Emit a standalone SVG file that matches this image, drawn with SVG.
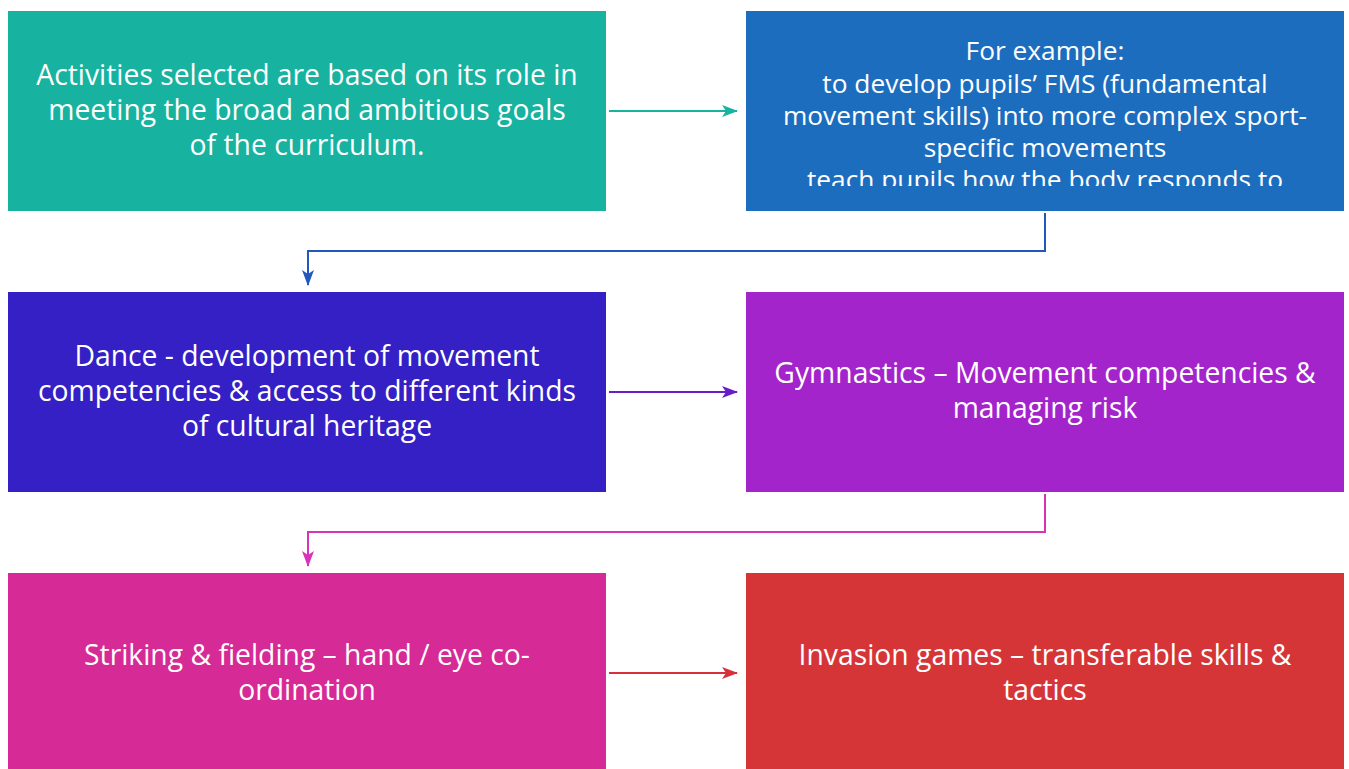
<svg xmlns="http://www.w3.org/2000/svg" width="1349" height="769" viewBox="0 0 1349 769">
<style>
.t{font-family:"Open Sans",Lato,"Liberation Sans",sans-serif;font-size:28.3px;fill:#fff;text-anchor:middle}
.s{font-size:26.3px}
.c{fill:none;stroke-width:2}
</style>
<defs>
<marker id="a1" markerWidth="16" markerHeight="12" refX="15" refY="6" orient="auto" markerUnits="userSpaceOnUse"><path d="M0,0 L16,6 L0,12 L4,6 Z" fill="#17b3a0"/></marker>
<marker id="a2" markerWidth="16" markerHeight="12" refX="15" refY="6" orient="auto" markerUnits="userSpaceOnUse"><path d="M0,0 L16,6 L0,12 L4,6 Z" fill="#2058c0"/></marker>
<marker id="a3" markerWidth="16" markerHeight="12" refX="15" refY="6" orient="auto" markerUnits="userSpaceOnUse"><path d="M0,0 L16,6 L0,12 L4,6 Z" fill="#6a1cc8"/></marker>
<marker id="a4" markerWidth="16" markerHeight="12" refX="15" refY="6" orient="auto" markerUnits="userSpaceOnUse"><path d="M0,0 L16,6 L0,12 L4,6 Z" fill="#d832b8"/></marker>
<marker id="a5" markerWidth="16" markerHeight="12" refX="15" refY="6" orient="auto" markerUnits="userSpaceOnUse"><path d="M0,0 L16,6 L0,12 L4,6 Z" fill="#d8303a"/></marker>
<clipPath id="cp2"><rect x="746" y="11" width="598" height="175"/></clipPath>
</defs>
<g id="connectors">
<path class="c" d="M609,111 H737" stroke="#17b3a0" marker-end="url(#a1)"/>
<path class="c" d="M1045,213 V251 H308 V285" stroke="#2058c0" marker-end="url(#a2)"/>
<path class="c" d="M609,392 H737" stroke="#6a1cc8" marker-end="url(#a3)"/>
<path class="c" d="M1045,494 V532 H308 V566" stroke="#d832b8" marker-end="url(#a4)"/>
<path class="c" d="M609,673 H737" stroke="#d8303a" marker-end="url(#a5)"/>
</g>
<g id="n1">
<rect x="8" y="11" width="598" height="200" fill="#17b3a0"/>
<text class="t" x="307" y="85">Activities selected are based on its role in</text>
<text class="t" x="307" y="120">meeting the broad and ambitious goals</text>
<text class="t" x="307" y="155">of the curriculum.</text>
</g>
<g id="n2">
<rect x="746" y="11" width="598" height="200" fill="#1d6dbf"/>
<g clip-path="url(#cp2)">
<text class="t s" x="1045" y="60">For example:</text>
<text class="t s" x="1045" y="93">to develop pupils’ FMS (fundamental</text>
<text class="t s" x="1045" y="125">movement skills) into more complex sport-</text>
<text class="t s" x="1045" y="157">specific movements</text>
<text class="t s" x="1045" y="189">teach pupils how the body responds to</text>
</g>
</g>
<g id="n3">
<rect x="8" y="292" width="598" height="200" fill="#3420c4"/>
<text class="t" x="307" y="366">Dance - development of movement</text>
<text class="t" x="307" y="401">competencies &amp; access to different kinds</text>
<text class="t" x="307" y="436">of cultural heritage</text>
</g>
<g id="n4">
<rect x="746" y="292" width="598" height="200" fill="#a424cc"/>
<text class="t" x="1045" y="383">Gymnastics – Movement competencies &amp;</text>
<text class="t" x="1045" y="418">managing risk</text>
</g>
<g id="n5">
<rect x="8" y="573" width="598" height="196" fill="#d62a96"/>
<text class="t" x="307" y="665">Striking &amp; fielding – hand / eye co-</text>
<text class="t" x="307" y="700">ordination</text>
</g>
<g id="n6">
<rect x="746" y="573" width="598" height="196" fill="#d63538"/>
<text class="t" x="1045" y="665">Invasion games – transferable skills &amp;</text>
<text class="t" x="1045" y="700">tactics</text>
</g>
</svg>
